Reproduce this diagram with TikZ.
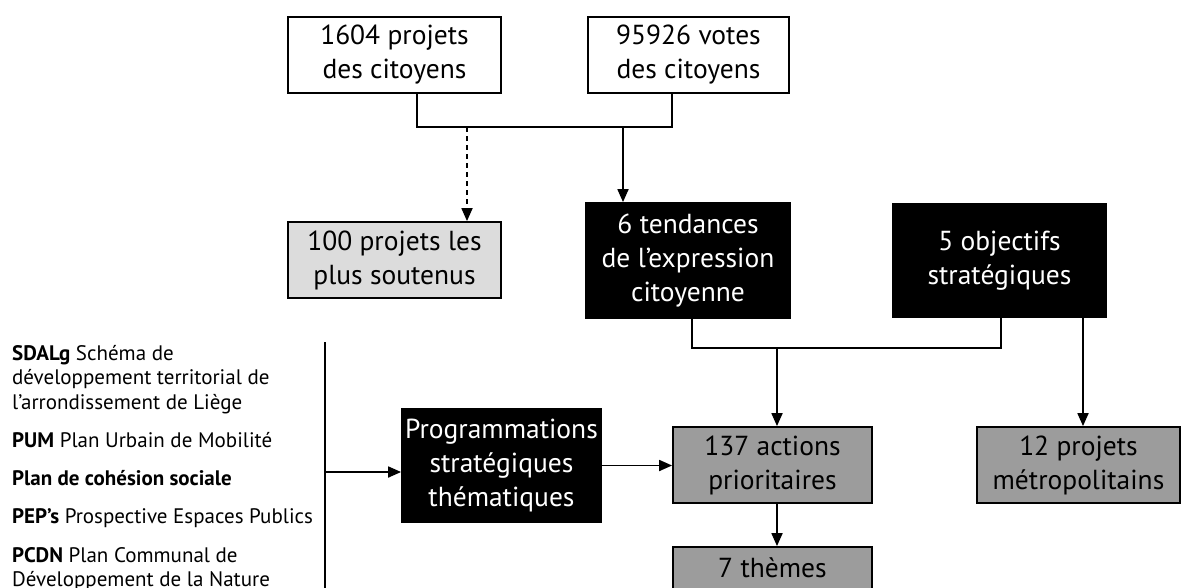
\documentclass[tikz,border=0pt]{standalone}
\usepackage{fontspec}
\setmainfont{PT Sans}
\usetikzlibrary{arrows.meta}
\definecolor{lightbox}{HTML}{DCDCDC}
\definecolor{midbox}{HTML}{9C9C9C}
\tikzset{
  box/.style={draw=black, line width=1.8pt, inner sep=0pt, align=center,
    font=\fontsize{27.5}{34}\selectfont, text=black},
  whitebox/.style={box, fill=white},
  lightgray/.style={box, fill=lightbox},
  graybox/.style={box, fill=midbox},
  blackbox/.style={box, fill=black, text=white},
  conn/.style={line width=1.8pt},
  arr/.style={conn, -{Triangle[length=13pt,width=11pt]}},
  lefttext/.style={anchor=base west, inner sep=0pt, font=\fontsize{21}{24.5}\selectfont}
}
\begin{document}
\begin{tikzpicture}[x=1pt,y=-1pt]
\useasboundingbox (0,0) rectangle (1181,587);
\clip (0,0) rectangle (1181,587);
\fill[white] (0,0) rectangle (1181,587);

% top boxes
\node[whitebox, minimum width=213, minimum height=76] (p1) at (394.5,55) {1604 projets\\des citoyens};
\node[whitebox, minimum width=201, minimum height=76] (v1) at (688.5,55) {95926 votes\\des citoyens};

% second row
\node[lightgray, minimum width=213, minimum height=76] (p100) at (394.5,260) {100 projets les\\plus soutenus};
\node[blackbox, minimum width=204, minimum height=115] (t6) at (688,260.5) {6 tendances\\de l’expression\\citoyenne};
\node[blackbox, minimum width=213, minimum height=113] (o5) at (999.5,260.5) {5 objectifs\\stratégiques};

% third row
\node[blackbox, minimum width=199, minimum height=113] (prog) at (501.5,465.5) {Programmations\\stratégiques\\thématiques};
\node[graybox, minimum width=199, minimum height=76] (a137) at (772.5,465) {137 actions\\prioritaires};
\node[graybox, minimum width=203, minimum height=76] (p12) at (1078.5,465) {12 projets\\métropolitains};
\node[graybox, minimum width=199, minimum height=76] (th7) at (772.5,585) {7 thèmes\\\phantom{x}};

% connectors top
\coordinate (j1) at (417,127);
\coordinate (j2) at (672,127);
\draw[conn] (j1 |- p1.south) -- (j1) -- (j2) -- (j2 |- v1.south);
\coordinate (d1) at (467,127);
\draw[arr, dashed, dash pattern=on 5pt off 4pt] (d1) -- (d1 |- p100.north);
\coordinate (s1) at (623,127);
\draw[arr] (s1) -- (s1 |- t6.north);

% connectors middle
\coordinate (j3) at (692,348);
\coordinate (j4) at (1001,348);
\draw[conn] (j3 |- t6.south) -- (j3) -- (j4) -- (j4 |- o5.south);
\coordinate (s2) at (777,348);
\draw[arr] (s2) -- (s2 |- a137.north);
\coordinate (s3) at (1083,348);
\draw[arr] (s3 |- o5.south) -- (s3 |- p12.north);
\draw[arr] (prog.east) -- (a137.west |- prog.east);
\draw[arr] (s2 |- a137.south) -- (s2 |- th7.north);

% left bracket line
\coordinate (l1) at (325,342);
\coordinate (l2) at (325,600);
\draw[conn] (l1) -- (l2);
\coordinate (l3) at (325,472);
\draw[arr] (l3) -- (prog.west |- l3);

% left texts
\node[lefttext] (t1) at (12,360) {\parbox[t]{310pt}{\raggedright\textbf{SDALg} Schéma de\\développement territorial de\\l’arrondissement de Liège}};
\node[lefttext] (t2) at (12,447) {\textbf{PUM} Plan Urbain de Mobilité};
\node[lefttext] (t3) at (12,485) {\textbf{Plan de cohésion sociale}};
\node[lefttext] (t4) at (12,523) {\textbf{PEP’s} Prospective Espaces Publics};
\node[lefttext] (t5) at (12,562) {\parbox[t]{310pt}{\raggedright\textbf{PCDN} Plan Communal de\\Développement de la Nature}};
\end{tikzpicture}
\end{document}
